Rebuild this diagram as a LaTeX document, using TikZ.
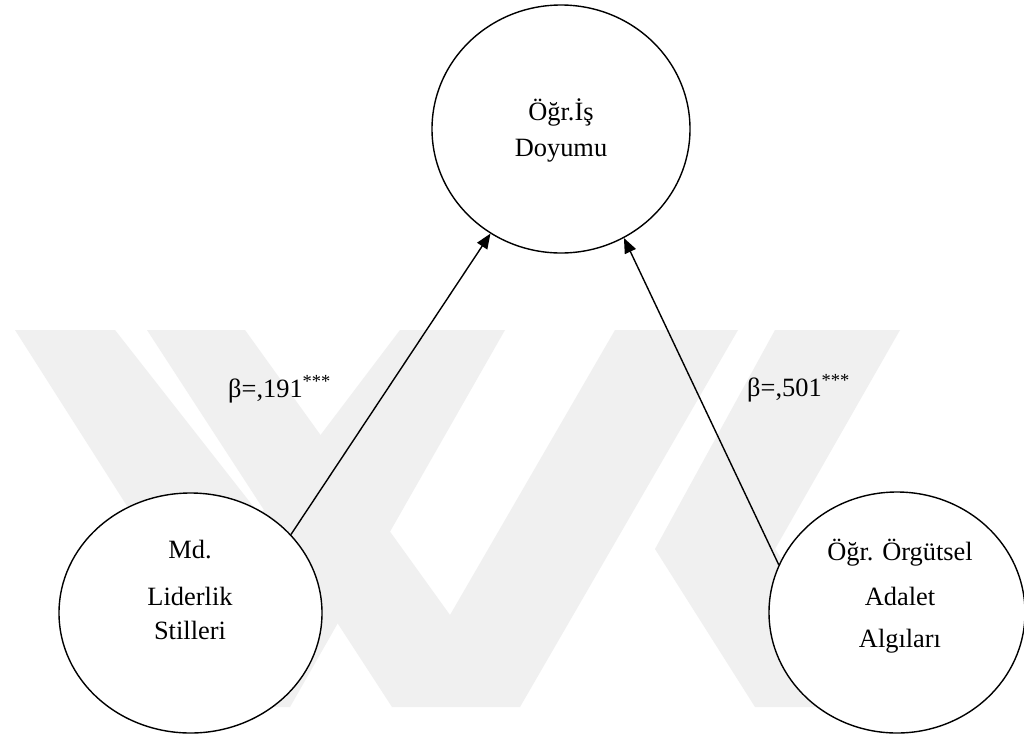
\documentclass[tikz,border=0pt]{standalone}
\usepackage{fontspec}
\setmainfont{Liberation Serif}
\usetikzlibrary{shapes.geometric,arrows.meta}
\begin{document}
\begin{tikzpicture}[x=1pt,y=-1pt,
  var/.style={ellipse,draw=black,line width=1.4pt,fill=white,inner sep=0pt},
  txt/.style={font=\fontsize{26.4}{30}\selectfont,anchor=base,inner sep=0pt},
  link/.style={line width=1.4pt,-{Triangle[length=15pt,width=12pt]}},
  wm/.style={fill=black!6,draw=none}]
\useasboundingbox[fill=white] (0,0) rectangle (1024,737);
% watermark
\fill[wm] (15,330) -- (115,330) -- (260,515) -- (400,330) -- (505,330) -- (290,707) -- (255,707) -- cycle;
\fill[wm] (147,330) -- (245,330) -- (450,615) -- (615,330) -- (738,330) -- (520,707) -- (392,707) -- cycle;
\fill[wm] (775,330) -- (900,330) -- (775,549) -- (880,707) -- (755,707) -- (655,549) -- cycle;
% variables
\node[var,minimum width=258pt,minimum height=248pt] (T) at (561,129) {};
\node[var,minimum width=263pt,minimum height=240pt] (L) at (190.5,613) {};
\node[var,minimum width=256pt,minimum height=241pt] (R) at (897,612.5) {};
\node[txt] (t1) at (561,120) {Öğr.İş};
\node[txt] (t2) at (561,156) {Doyumu};
\node[txt] (l1) at (190,558) {Md.};
\node[txt] (l2) at (190,605) {Liderlik};
\node[txt] (l3) at (190,639) {Stilleri};
\node[txt] (r1) at (900,560) {Öğr. Örgütsel};
\node[txt] (r2) at (900,605) {Adalet};
\node[txt] (r3) at (900,647) {Algıları};
% paths
\draw[link] (L.38) -- (T.236);
\draw[link] (R.158) -- (T.300);
\node[txt,anchor=base west] (b1) at (228,397) {β=,191\textsuperscript{***}};
\node[txt,anchor=base west] (b2) at (747,396) {β=,501\textsuperscript{***}};
\end{tikzpicture}
\end{document}
